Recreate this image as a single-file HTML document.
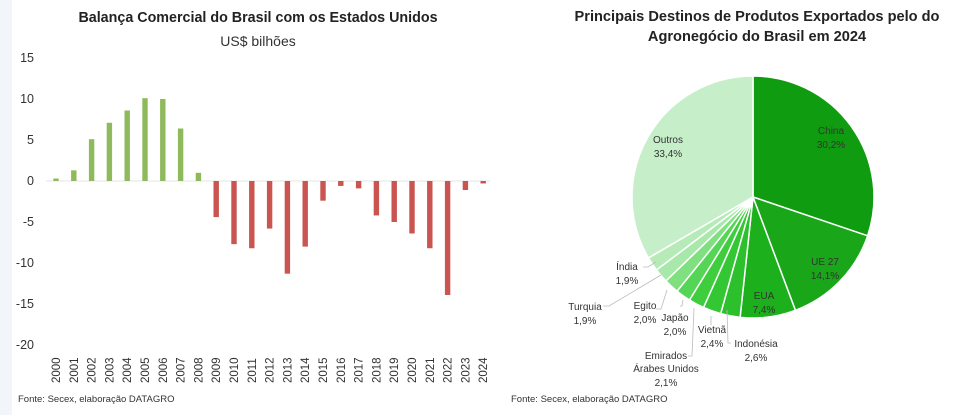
<!DOCTYPE html>
<html><head><meta charset="utf-8"><style>
html,body{margin:0;padding:0;background:#fff;}
body{width:967px;height:415px;overflow:hidden;position:relative;font-family:"Liberation Sans",sans-serif;}
</style></head><body>
<div style="position:absolute;left:0;top:0;width:12px;height:415px;background:#f2f5fa"></div>
<svg id="s" width="967" height="415" style="position:absolute;left:0;top:0" font-family="Liberation Sans, sans-serif">
<text x="258" y="22" text-anchor="middle" font-size="14.3" font-weight="bold" fill="#222">Balança Comercial do Brasil com os Estados Unidos</text>
<text x="258" y="46" text-anchor="middle" font-size="14" fill="#333">US$ bilhões</text>
<g font-size="12.5" fill="#333" text-anchor="end">
<text x="34" y="62">15</text><text x="34" y="103">10</text><text x="34" y="144">5</text><text x="34" y="185">0</text>
<text x="34" y="226">-5</text><text x="34" y="267">-10</text><text x="34" y="308">-15</text><text x="34" y="349">-20</text>
</g>
<line x1="46" y1="181" x2="490" y2="181" stroke="#e4e4e4" stroke-width="1"/>
<g id="bars"></g>
<g id="yrs" font-size="11.5" fill="#333"></g>
<text x="18" y="402" font-size="9.5" fill="#333">Fonte: Secex, elaboração DATAGRO</text>

<text x="757" y="21" text-anchor="middle" font-size="14.6" font-weight="bold" fill="#222">Principais Destinos de Produtos Exportados pelo do</text>
<text x="757" y="41" text-anchor="middle" font-size="14.6" font-weight="bold" fill="#222">Agronegócio do Brasil em 2024</text>
<g id="pie"></g>
<g fill="none" stroke="#bbb" stroke-width="0.8">
<polyline points="643,267 648,267 656,262"/>
<polyline points="603,306 609,306 661,275"/>
<polyline points="656,309 661,309 667,290"/>
<polyline points="680,306 682,306 683,300"/>
<polyline points="711,325 711,316"/>
<polyline points="688,356 692,356 694,308"/>
<polyline points="731,343 728,343 727,310"/>
</g>
<g font-size="10" fill="#333" text-anchor="middle">
<text x="831" y="134">China</text><text x="831" y="148">30,2%</text>
<text x="668" y="143">Outros</text><text x="668" y="157">33,4%</text>
<text x="825" y="265">UE 27</text><text x="825" y="279">14,1%</text>
<text x="764" y="299">EUA</text><text x="764" y="313">7,4%</text>
<text x="627" y="270">Índia</text><text x="627" y="284">1,9%</text>
<text x="585" y="310">Turquia</text><text x="585" y="324">1,9%</text>
<text x="645" y="309">Egito</text><text x="645" y="323">2,0%</text>
<text x="675" y="321">Japão</text><text x="675" y="335">2,0%</text>
<text x="712" y="333">Vietnã</text><text x="712" y="347">2,4%</text>
<text x="756" y="347">Indonésia</text><text x="756" y="361">2,6%</text>
<text x="666" y="359">Emirados</text><text x="666" y="372">Árabes Unidos</text><text x="666" y="386">2,1%</text>
</g>
<text x="511" y="402" font-size="9.5" fill="#333">Fonte: Secex, elaboração DATAGRO</text>
</svg>
<script>
var ns="http://www.w3.org/2000/svg";
var vals=[0.3,1.3,5.1,7.1,8.6,10.1,10,6.4,1,-4.4,-7.7,-8.2,-5.8,-11.3,-8,-2.4,-0.6,-0.9,-4.2,-5,-6.4,-8.2,-13.9,-1.1,-0.3];
var bars=document.getElementById('bars'),yrs=document.getElementById('yrs');
var z=181,k=8.2;
vals.forEach(function(v,i){
 var x=56+i*17.8;
 var r=document.createElementNS(ns,'rect');
 var h=Math.max(Math.abs(v)*k,1.2);
 r.setAttribute('x',x-2.7);r.setAttribute('width',5.4);
 r.setAttribute('y',v>=0?z-h:z);r.setAttribute('height',h);
 r.setAttribute('fill',v>=0?'#8fba5c':'#c95450');
 bars.appendChild(r);
 var t=document.createElementNS(ns,'text');
 t.setAttribute('transform','translate('+(x+4)+',383) rotate(-90)');
 t.textContent=2000+i;yrs.appendChild(t);
});
var pie=document.getElementById('pie');
var cx=753,cy=197,R=121;
var sl=[[30.2,'#109c10'],[14.1,'#19a619'],[7.4,'#1cb01c'],[2.6,'#2cc02c'],[2.4,'#33c733'],[2.1,'#3dcd3d'],[2.0,'#55d555'],[2.0,'#80e080'],[1.9,'#a9e8ab'],[1.9,'#b6ebb8'],[33.4,'#c6efc9']];
var a=0;
sl.forEach(function(s){
 var a0=a/100*2*Math.PI,a1=(a+s[0])/100*2*Math.PI;a+=s[0];
 var x0=cx+R*Math.sin(a0),y0=cy-R*Math.cos(a0),x1=cx+R*Math.sin(a1),y1=cy-R*Math.cos(a1);
 var p=document.createElementNS(ns,'path');
 p.setAttribute('d','M'+cx+','+cy+' L'+x0+','+y0+' A'+R+','+R+' 0 '+(s[0]>50?1:0)+' 1 '+x1+','+y1+' Z');
 p.setAttribute('fill',s[1]);p.setAttribute('stroke','#fff');p.setAttribute('stroke-width','1.5');
 pie.appendChild(p);
});
</script>
</body></html>
